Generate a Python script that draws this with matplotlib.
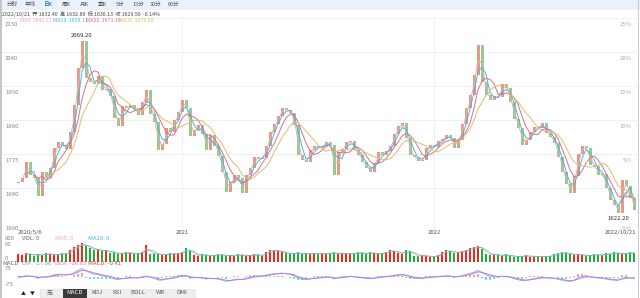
import numpy as np
import pandas as pd
import matplotlib
matplotlib.use('Agg')
import matplotlib.pyplot as plt
from matplotlib.patches import Rectangle

W, H = 640, 298
plt.rcParams['font.family'] = ['Noto Sans CJK SC', 'DejaVu Sans']

# one candle per ~4 trading days, 2020/5/6 .. 2022/10/21
first_open = 1700.0
closes = [
    1703.0, 1713.4, 1755.0, 1721.2, 1713.4, 1666.7, 1729.0, 1713.4, 1739.4, 1791.3,
    1806.9, 1796.5, 1790.0, 1832.9, 1903.0, 1999.1, 2069.2, 1973.1, 1962.7, 1957.5,
    1978.3, 1941.9, 1945.0, 1926.4, 1869.2, 1848.5, 1900.4, 1895.2, 1902.0, 1890.0,
    1877.0, 1910.8, 1941.9, 1879.6, 1858.8, 1786.1, 1801.7, 1843.3, 1832.9, 1864.0,
    1884.8, 1916.0, 1895.2, 1822.5, 1838.1, 1851.1, 1827.7, 1786.1, 1825.1, 1796.5,
    1770.5, 1729.0, 1677.1, 1703.0, 1721.2, 1713.4, 1674.5, 1721.2, 1739.4, 1767.9,
    1762.0, 1765.4, 1796.5, 1832.9, 1853.6, 1874.4, 1895.2, 1890.0, 1882.2, 1851.1,
    1773.1, 1760.2, 1755.0, 1786.1, 1796.5, 1791.3, 1796.5, 1806.9, 1799.1, 1720.0,
    1780.9, 1788.7, 1806.9, 1809.5, 1786.1, 1773.1, 1755.0, 1739.4, 1729.0, 1752.4,
    1780.9, 1773.1, 1783.5, 1796.5, 1827.7, 1848.5, 1856.2, 1817.3, 1773.1, 1767.9,
    1757.6, 1760.2, 1791.3, 1799.1, 1793.9, 1809.5, 1814.7, 1825.1, 1817.3, 1791.3,
    1812.1, 1853.6, 1895.2, 1929.0, 1980.9, 2058.8, 1962.7, 1929.0, 1916.0, 1926.4,
    1923.8, 1957.5, 1947.1, 1910.8, 1866.6, 1843.3, 1799.1, 1812.1, 1832.9, 1845.9,
    1843.3, 1856.2, 1830.3, 1819.9, 1804.3, 1767.9, 1729.0, 1697.8, 1674.5, 1718.6,
    1775.7, 1796.5, 1791.3, 1747.2, 1744.6, 1721.2, 1723.8, 1687.4, 1656.3, 1643.3,
    1622.2, 1708.2, 1692.6, 1661.5, 1629.5,
]
volumes = [
    80, 70, 90, 80, 60, 80, 70, 90, 80, 70, 80, 90, 80,
    120, 150, 170, 190, 160, 140,
    120, 130, 110, 120,
    90, 100, 80, 90, 100, 90, 80, 90, 100,
    170,
    80, 90, 80, 70, 80, 90, 80, 90,
    100, 140, 110,
    70, 60, 80, 70, 60, 70, 80, 70, 60, 70, 60, 80, 70, 60, 70, 80, 70, 60,
    100, 120, 120, 110, 100,
    90, 80, 90, 100, 80, 90, 80, 90, 80,
    90, 80, 90, 100, 80, 90, 90, 80, 90, 100,
    90, 80, 100, 90, 80, 90, 100, 120, 110, 90, 80,
    120, 110,
    60, 60, 70, 60, 50, 60, 70,
    100, 120, 110, 90,
    100, 110, 120,
    140, 150, 160, 130,
    80, 70, 80, 70, 60, 80,
    60, 50, 60, 60, 70, 50, 60, 60, 50, 60, 60,
    80, 90, 100, 90, 80,
    70, 80, 70, 60, 70, 80, 70, 70,
    90, 80, 100, 90, 80, 90, 100, 90,
]

price_labels = ['2130', '2040', '1950', '1860', '1775', '1690', '1600']
pct_labels = ['25%', '20%', '15%', '10%', '5%', '0%', '-5%']
date_labels = ['2020/5/6', '2021', '2022', '2022/10/21']
date_idx = [0, 41, 104, 154]
ma_names = ['MA5', 'MA10', 'MA20', 'MA30']
ma_windows = [2, 3, 5, 8]          # scaled to the 4-day candles
ma_last = ['1641.21', '1658.11', '1671.16', '1676.60']
ma_colors = ['#f0a8b0', '#3fbfd0', '#e86a8a', '#d8c070']
tabs_top = ['分时', '年线', '日K', '周K', '月K', '季K', '5分', '15分', '30分', '60分']
tabs_bottom = ['无', 'MACD', 'KDJ', 'RSI', 'BOLL', 'WR', 'DMI']

UP, DOWN = '#e29a88', '#98c894'
UP_V, DOWN_V = '#ee2a1b', '#1fae3c'

closes = np.array(closes)
opens = np.r_[first_open, closes[:-1]]
n = len(closes)
idx = np.arange(n)
up = closes >= opens


def box(x0, y0, x1, y1):
    return [x0 / W, 1 - y1 / H, (x1 - x0) / W, (y1 - y0) / H]


def ftext(x, y, s, **kw):
    kw.setdefault('fontsize', 4.3)
    kw.setdefault('va', 'center')
    fig.text(x / W, 1 - y / H, s, **kw)


fig = plt.figure(figsize=(W / 100, H / 100), dpi=100)
fig.patch.set_facecolor('white')

# top toolbar
fig.add_artist(Rectangle((0, 1 - 9.5 / H), 1, 9.5 / H, transform=fig.transFigure,
                         facecolor='#eaf1fb', edgecolor='none'))
for k, t in enumerate(tabs_top):
    ftext(12 + k * 18, 4.8, t, ha='center', fontsize=4.0,
          color='#555555' if k != 2 else '#1a5fb4')

ftext(2, 14, '2022/10/21  开 1632.40  高 1632.80  低 1630.13  收 1629.50  -0.14%',
      color='#444444', fontsize=3.8)
for k, (nm, v, c) in enumerate(zip(ma_names, ma_last, ma_colors)):
    ftext(20 + k * 33, 20.5, f'{nm}  {v}', color=c, fontsize=3.8)

# price panel
ax = fig.add_axes(box(2, 17.6, 637, 221.7))
ax.set_xlim(-4, 154.75)
ax.set_ylim(1600, 2130)
ax.axis('off')
grid = np.linspace(2130, 1600, 7)
for g in grid:
    ax.axhline(g, color='#eeeeee', lw=0.6, zorder=0)
for d in date_idx[1:3]:
    ax.axvline(d, ymin=-0.07, ymax=1, color='#eeeeee', lw=0.6, zorder=0, clip_on=False)

ax.bar(idx, closes - opens, bottom=opens, width=0.75,
       color=np.where(up, UP, DOWN), linewidth=0, zorder=2)
s = pd.Series(closes)
for w, c in zip(ma_windows, ma_colors):
    ax.plot(idx, s.rolling(w).mean(), color=c, lw=0.7, zorder=3)

imax, imin = int(np.argmax(closes)), int(np.argmin(closes))
ax.annotate(f'{closes[imax]:.2f}', (imax, closes[imax]), xytext=(0, 2),
            textcoords='offset points', ha='center', va='bottom', fontsize=4.3, color='#333333')
ax.annotate(f'{closes[imin]:.2f}', (imin, closes[imin]), xytext=(0, -2),
            textcoords='offset points', ha='center', va='top', fontsize=4.3, color='#333333')

for k, g in enumerate(grid):
    yy = 17.6 + k * (221.7 - 17.6) / 6 + 6.5
    ftext(5, yy, price_labels[k], color='#888888')
    ftext(632, yy, pct_labels[k], color='#aaaaaa', ha='right')

for lab, d in zip(date_labels, date_idx):
    x = 18 + 4 * d
    ha = 'left' if d == 0 else ('right' if d == n - 1 else 'center')
    ftext(x + (2 if d == n - 1 else 0), 232.5, lab, ha=ha, color='#555555')

# volume panel
ftext(5, 238, '800', color='#888888')
ftext(22, 238, 'VOL: 0', color='#666666')
ftext(55, 238, 'MA5: 0', color=ma_colors[0])
ftext(88, 238, 'MA10: 0', color=ma_colors[1])
axv = fig.add_axes(box(2, 243, 637, 262))
axv.set_xlim(-4, 154.75)
axv.set_ylim(0, 195)
axv.axis('off')
axv.bar(idx, volumes, width=0.7, color=np.where(up, UP_V, DOWN_V), linewidth=0)
vs = pd.Series(volumes)
axv.plot(idx, vs.rolling(2).mean(), color=ma_colors[0], lw=0.5)
axv.plot(idx, vs.rolling(3).mean(), color=ma_colors[1], lw=0.5)
ftext(5, 244, '60', color='#888888')
ftext(5, 259, '0', color='#888888')

# MACD panel
ema_f = s.ewm(span=3.5, adjust=False).mean()
ema_s = s.ewm(span=7, adjust=False).mean()
dif = ema_f - ema_s
dea = dif.ewm(span=3, adjust=False).mean()
hist = 2 * (dif - dea)
ftext(2, 263.5, 'MACD', color='#666666')
ftext(22, 263.5, 'DIF: -17.06', color='#6f9fe0')
ftext(55, 263.5, 'DEA: -16.65', color='#e37aa0')
ftext(88, 263.5, 'MACD: -0.41', color='#e04040')
axm = fig.add_axes(box(2, 265, 637, 288))
axm.set_xlim(-4, 154.75)
axm.set_ylim(-92, 100)
axm.axis('off')
axm.bar(idx, hist, width=0.6, color=np.where(hist >= 0, '#f2a0b4', '#7fd6cc'), linewidth=0)
axm.plot(idx, dif, color='#8fb4ea', lw=0.7)
axm.plot(idx, dea, color='#b77fe0', lw=0.7)
ftext(5, 269, '75', color='#888888')
ftext(5, 285, '-75', color='#888888')

# bottom tab bar
ftext(23, 293, '▲', fontsize=3.5, ha='center', color='#222222')
ftext(32, 293, '▼', fontsize=3.5, ha='center', color='#222222')
fig.add_artist(Rectangle((40 / W, 1 - 297.5 / H), 155 / W, 9 / H, transform=fig.transFigure,
                         facecolor='#eeeeee', edgecolor='#dddddd', lw=0.4))
tab_x = [50, 75, 97, 117, 138, 160, 182]
for t, x in zip(tabs_bottom, tab_x):
    if t == 'MACD':
        fig.add_artist(Rectangle((63 / W, 1 - 297.5 / H), 24 / W, 9 / H,
                                 transform=fig.transFigure, facecolor='#3a3a3a', edgecolor='none'))
        ftext(x, 293, t, ha='center', color='white')
    else:
        ftext(x, 293, t, ha='center', color='#555555')

# frame
fig.add_artist(plt.Line2D([1 / W, 1 / W], [0, 1], color='#bbbbbb', lw=1.2, transform=fig.transFigure))
fig.add_artist(plt.Line2D([638 / W, 638 / W], [0, 1], color='#cccccc', lw=0.8, transform=fig.transFigure))

fig.savefig('out.png', dpi=100)
